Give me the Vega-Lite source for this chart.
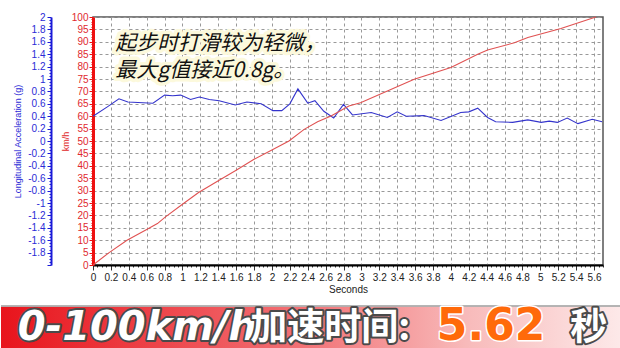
{
  "$schema": "https://vega.github.io/schema/vega-lite/v6.json",
  "padding": {"left": 0, "top": 11, "right": 0, "bottom": 0},
  "background": "white",
  "config": {
    "axis": {"labelFont": "Liberation Sans", "titleFont": "Liberation Sans"}
  },
  "datasets": {
    "accel": [
      {"t": 0, "g": 0.40}, {"t": 0.16, "g": 0.55}, {"t": 0.29, "g": 0.68}, {"t": 0.39, "g": 0.63},
      {"t": 0.67, "g": 0.61}, {"t": 0.80, "g": 0.74}, {"t": 0.89, "g": 0.73}, {"t": 0.98, "g": 0.74},
      {"t": 1.09, "g": 0.67}, {"t": 1.19, "g": 0.71}, {"t": 1.30, "g": 0.67}, {"t": 1.41, "g": 0.65},
      {"t": 1.59, "g": 0.58}, {"t": 1.72, "g": 0.63}, {"t": 1.88, "g": 0.60}, {"t": 2.01, "g": 0.49},
      {"t": 2.11, "g": 0.49}, {"t": 2.20, "g": 0.60}, {"t": 2.29, "g": 0.84}, {"t": 2.40, "g": 0.61},
      {"t": 2.48, "g": 0.65}, {"t": 2.58, "g": 0.48}, {"t": 2.69, "g": 0.37}, {"t": 2.80, "g": 0.59},
      {"t": 2.90, "g": 0.42}, {"t": 3.11, "g": 0.46}, {"t": 3.29, "g": 0.38}, {"t": 3.40, "g": 0.47},
      {"t": 3.50, "g": 0.40}, {"t": 3.70, "g": 0.41}, {"t": 3.89, "g": 0.33}, {"t": 4.11, "g": 0.46},
      {"t": 4.20, "g": 0.47}, {"t": 4.30, "g": 0.53}, {"t": 4.41, "g": 0.38}, {"t": 4.50, "g": 0.31},
      {"t": 4.69, "g": 0.30}, {"t": 4.86, "g": 0.34}, {"t": 5.01, "g": 0.30}, {"t": 5.10, "g": 0.32},
      {"t": 5.19, "g": 0.30}, {"t": 5.30, "g": 0.37}, {"t": 5.42, "g": 0.28}, {"t": 5.58, "g": 0.35},
      {"t": 5.69, "g": 0.31}
    ],
    "speed": [
      {"t": 0, "kmh": 0}, {"t": 0.18, "kmh": 5}, {"t": 0.38, "kmh": 10}, {"t": 0.59, "kmh": 14.1},
      {"t": 0.72, "kmh": 16.7}, {"t": 0.81, "kmh": 19.4}, {"t": 1.0, "kmh": 24.5}, {"t": 1.18, "kmh": 29.2},
      {"t": 1.41, "kmh": 34.2}, {"t": 1.60, "kmh": 38.2}, {"t": 1.80, "kmh": 42.6}, {"t": 2.01, "kmh": 46.6},
      {"t": 2.19, "kmh": 50}, {"t": 2.36, "kmh": 54.7}, {"t": 2.51, "kmh": 57.8}, {"t": 2.66, "kmh": 60.1},
      {"t": 2.86, "kmh": 64.1}, {"t": 2.99, "kmh": 65.4}, {"t": 3.29, "kmh": 70.2}, {"t": 3.59, "kmh": 74.9},
      {"t": 4.0, "kmh": 79.6}, {"t": 4.30, "kmh": 85.0}, {"t": 4.41, "kmh": 86.7}, {"t": 4.71, "kmh": 89.6},
      {"t": 4.86, "kmh": 91.7}, {"t": 5.23, "kmh": 95.4}, {"t": 5.62, "kmh": 100}
    ],
    "note": [
      {"t": 0.25, "v": 93.7, "text": "起步时打滑较为轻微，\n最大g值接近0.8g。"}
    ],
    "banner": [
      {"part": "a", "seg": "0-100km/h", "pos": 0.027},
      {"part": "b", "seg": "加速时间:", "pos": 0.402},
      {"part": "c", "seg": "5.62", "pos": 0.703},
      {"part": "d", "seg": "秒", "pos": 0.918}
    ]
  },
  "concat": [
    {
      "width": 510,
      "height": 248,
      "view": {"stroke": "#555", "strokeWidth": 1.5},
      "resolve": {"scale": {"y": "independent"}},
      "layer": [
        {
          "data": {"name": "accel"},
          "mark": {"type": "line", "color": "#3434cc", "strokeWidth": 1.1},
          "encoding": {
            "x": {
              "field": "t", "type": "quantitative",
              "scale": {"domain": [0, 5.7], "nice": false},
              "axis": {
                "title": "Seconds", "titleFontSize": 10, "titleFontWeight": "normal", "titleColor": "#222", "titlePadding": 2,
                "tickCount": 114,
                "labelExpr": "abs(datum.value*5 - round(datum.value*5)) < 0.01 ? '' + round(datum.value*10)/10 : ''",
                "labelOverlap": false, "labelFlush": false, "labelFontSize": 10, "labelColor": "#222", "labelPadding": 2,
                "domainColor": "#000", "domainWidth": 2, "tickColor": "#333",
                "tickSize": {"condition": {"test": "abs(datum.value*5 - round(datum.value*5)) < 0.01", "value": 5}, "value": 2},
                "grid": true, "gridColor": "#999", "gridDash": [3, 3], "gridWidth": 1,
                "gridOpacity": {"condition": {"test": "abs(datum.value*5 - round(datum.value*5)) < 0.01", "value": 1}, "value": 0}
              }
            },
            "y": {
              "field": "g", "type": "quantitative",
              "scale": {"domain": [-2, 2], "nice": false},
              "axis": {
                "orient": "left", "offset": 42,
                "title": "Longitudinal Acceleration (g)", "titleColor": "#2b2bd6", "titleFontSize": 9, "titleFontWeight": "normal", "titlePadding": 5,
                "tickCount": 80,
                "labelExpr": "abs(datum.value*5 - round(datum.value*5)) < 0.01 && datum.value > -1.99 ? '' + round(datum.value*10)/10 : ''",
                "labelColor": "#2b2bd6", "labelFontSize": 10, "labelOverlap": false, "labelFlush": false, "labelPadding": 2,
                "domainColor": "#1a1ad8", "domainWidth": 2, "tickColor": "#1a1ad8",
                "tickSize": {"condition": {"test": "abs(datum.value*5 - round(datum.value*5)) < 0.01", "value": 4}, "value": 2},
                "grid": false
              }
            }
          }
        },
        {
          "layer": [
            {
              "data": {"name": "note"},
              "mark": {"type": "text", "align": "left", "baseline": "top", "font": "Noto Sans CJK SC", "fontSize": 21, "fontStyle": "italic", "lineBreak": "\n", "lineHeight": 27.5, "fill": "#fcf9dc", "stroke": "#fcf9dc", "strokeWidth": 7, "strokeJoin": "round"},
              "encoding": {
                "x": {"field": "t", "type": "quantitative"},
                "y": {"field": "v", "type": "quantitative", "scale": {"domain": [0, 100], "nice": false}},
                "text": {"field": "text"}
              }
            },
            {
              "data": {"name": "note"},
              "mark": {"type": "text", "align": "left", "baseline": "top", "font": "Noto Sans CJK SC", "fontSize": 21, "fontStyle": "italic", "lineBreak": "\n", "lineHeight": 27.5, "color": "#111"},
              "encoding": {
                "x": {"field": "t", "type": "quantitative"},
                "y": {"field": "v", "type": "quantitative"},
                "text": {"field": "text"}
              }
            },
            {
              "data": {"name": "speed"},
              "mark": {"type": "line", "color": "#e05252", "strokeWidth": 1.1},
              "encoding": {
                "x": {"field": "t", "type": "quantitative"},
                "y": {
                  "field": "kmh", "type": "quantitative",
                  "scale": {"domain": [0, 100], "nice": false},
                  "axis": {
                    "orient": "left", "offset": 0,
                    "title": "km/h", "titleColor": "#e02a2a", "titleFontSize": 9, "titleFontWeight": "normal", "titlePadding": 1,
                    "tickCount": 100,
                    "labelExpr": "datum.value % 5 == 0 ? '' + datum.value : ''",
                    "labelColor": "#e0282e", "labelFontSize": 10, "labelOverlap": false, "labelFlush": false, "labelPadding": 1,
                    "domainColor": "#ee1111", "domainWidth": 3, "tickColor": "#ee1111",
                    "tickSize": {"condition": {"test": "datum.value % 5 == 0", "value": 4}, "value": 2},
                    "grid": true, "gridColor": "#999", "gridDash": [3, 3], "gridWidth": 1,
                    "gridOpacity": {"condition": {"test": "datum.value % 5 == 0 && datum.value > 0", "value": 1}, "value": 0}
                  }
                }
              }
            }
          ]
        }
      ]
    },
    {
      "width": 528,
      "height": 46,
      "view": {"stroke": null},
      "data": {"name": "banner"},
      "encoding": {
        "x": {"field": "pos", "type": "quantitative", "scale": {"domain": [0, 1], "range": [-92, 528]}, "axis": null}
      },
      "layer": [
        {
          "mark": {"type": "rect", "clip": false, "fill": {"gradient": "linear", "x1": 0, "x2": 1, "y1": 0, "y2": 0, "stops": [
            {"offset": 0, "color": "#e8141c"},
            {"offset": 0.2, "color": "#ec3a40"},
            {"offset": 0.5, "color": "#f27478"},
            {"offset": 0.75, "color": "#f8baba"},
            {"offset": 1, "color": "#fde9e9"}
          ]}},
          "encoding": {
            "x": {"datum": 0, "type": "quantitative"},
            "x2": {"datum": 1},
            "y": {"datum": 0, "type": "quantitative", "scale": {"domain": [0, 1]}, "axis": null},
            "y2": {"datum": 1}
          }
        },
        {
          "mark": {"type": "rule", "color": "#b0b0b0", "strokeWidth": 1},
          "encoding": {"x": {"datum": 0, "type": "quantitative"}, "x2": {"datum": 1}, "y": {"datum": 1, "type": "quantitative"}}
        },
        {
          "transform": [{"filter": "datum.part == 'a'"}],
          "mark": {"type": "text", "align": "left", "baseline": "alphabetic", "font": "DejaVu Sans", "fontWeight": "bold", "fontStyle": "italic", "fontSize": 40, "fill": "#4a4a4a", "stroke": "#4a4a4a", "strokeWidth": 4, "strokeJoin": "round"},
          "encoding": {"y": {"datum": 0.27, "type": "quantitative"}, "text": {"field": "seg"}}
        },
        {
          "transform": [{"filter": "datum.part == 'a'"}],
          "mark": {"type": "text", "align": "left", "baseline": "alphabetic", "font": "DejaVu Sans", "fontWeight": "bold", "fontStyle": "italic", "fontSize": 40, "fill": "#ffffff"},
          "encoding": {"y": {"datum": 0.27, "type": "quantitative"}, "text": {"field": "seg"}}
        },
        {
          "transform": [{"filter": "datum.part == 'b'"}],
          "mark": {"type": "text", "align": "left", "baseline": "alphabetic", "font": "Noto Sans CJK SC", "fontWeight": "bold", "fontSize": 37, "fill": "#4a4a4a", "stroke": "#4a4a4a", "strokeWidth": 4, "strokeJoin": "round"},
          "encoding": {"y": {"datum": 0.27, "type": "quantitative"}, "text": {"field": "seg"}}
        },
        {
          "transform": [{"filter": "datum.part == 'b'"}],
          "mark": {"type": "text", "align": "left", "baseline": "alphabetic", "font": "Noto Sans CJK SC", "fontWeight": "bold", "fontSize": 37, "fill": "#ffffff"},
          "encoding": {"y": {"datum": 0.27, "type": "quantitative"}, "text": {"field": "seg"}}
        },
        {
          "transform": [{"filter": "datum.part == 'c'"}],
          "mark": {"type": "text", "align": "left", "baseline": "alphabetic", "font": "DejaVu Sans", "fontWeight": "bold", "fontSize": 44, "fill": "#ffffff", "stroke": "#ffffff", "strokeWidth": 3, "strokeJoin": "round"},
          "encoding": {"y": {"datum": 0.27, "type": "quantitative"}, "text": {"field": "seg"}}
        },
        {
          "transform": [{"filter": "datum.part == 'c'"}],
          "mark": {"type": "text", "align": "left", "baseline": "alphabetic", "font": "DejaVu Sans", "fontWeight": "bold", "fontSize": 44, "fill": "#ff6a0a"},
          "encoding": {"y": {"datum": 0.27, "type": "quantitative"}, "text": {"field": "seg"}}
        },
        {
          "transform": [{"filter": "datum.part == 'd'"}],
          "mark": {"type": "text", "align": "left", "baseline": "alphabetic", "font": "Noto Sans CJK SC", "fontWeight": "bold", "fontSize": 37, "fill": "#4a4a4a", "stroke": "#4a4a4a", "strokeWidth": 4, "strokeJoin": "round"},
          "encoding": {"y": {"datum": 0.27, "type": "quantitative"}, "text": {"field": "seg"}}
        },
        {
          "transform": [{"filter": "datum.part == 'd'"}],
          "mark": {"type": "text", "align": "left", "baseline": "alphabetic", "font": "Noto Sans CJK SC", "fontWeight": "bold", "fontSize": 37, "fill": "#ffffff"},
          "encoding": {"y": {"datum": 0.27, "type": "quantitative"}, "text": {"field": "seg"}}
        }
      ]
    }
  ],
  "columns": 1,
  "spacing": 9
}
